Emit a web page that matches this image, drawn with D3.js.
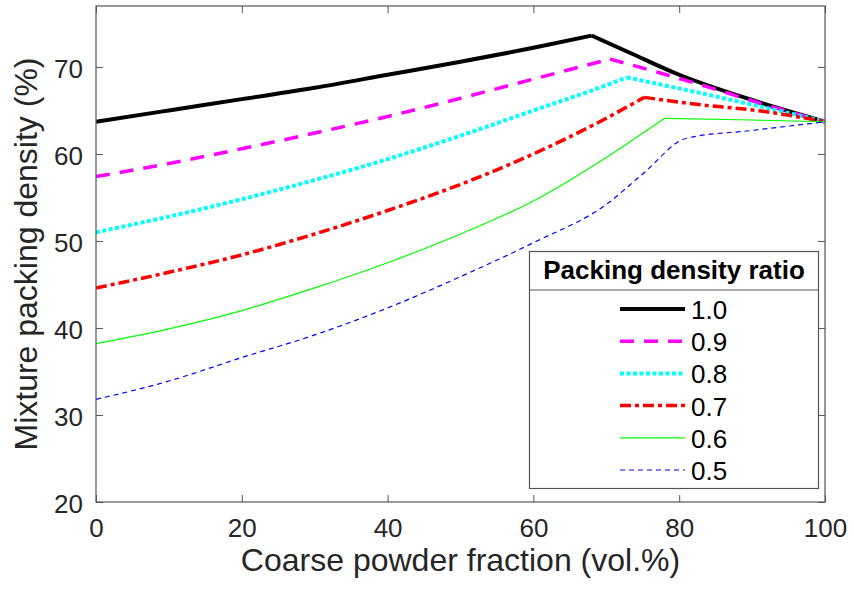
<!DOCTYPE html>
<html>
<head>
<meta charset="utf-8">
<script src="https://cdn.jsdelivr.net/npm/d3@7"></script>
<style>
  body { margin: 0; background: #fff; }
  text { font-family: "Liberation Sans", Arial, sans-serif; }
</style>
</head>
<body>
<svg id="grafico" width="854" height="590"></svg>
<script>
// Datos (fraccion gruesa en vol.%, densidad en %)
var ratios = ["1.0", "0.9", "0.8", "0.7", "0.6", "0.5"];
var colores = ["#000000", "#ff00ff", "#00ffff", "#ff0000", "#00ff00", "#0000ff"];

var x10 = [0, 10, 20, 30, 40, 50, 60, 68, 73.3, 80, 90, 100];
var y10 = [63.7, 65.0, 66.3, 67.6, 69.1, 70.6, 72.2, 73.6, 71.6, 69.1, 66.2, 63.7];

var x09 = [0, 10, 20, 30, 40, 50, 60, 70.5, 77.4, 84.7, 92, 100];
var y09 = [57.4, 58.9, 60.6, 62.4, 64.3, 66.4, 68.6, 70.9, 69.3, 67.5, 65.6, 63.7];

var x08 = [0, 10, 20, 30, 40, 50, 60, 70, 72.8, 80.1, 89.3, 100];
var y08 = [51.0, 52.8, 54.8, 57.0, 59.4, 62.1, 65.0, 67.9, 68.8, 67.5, 65.8, 63.7];

var x07 = [0, 10, 20, 30, 40, 50, 60, 70, 75.2, 82.4, 91.5, 100];
var y07 = [44.6, 46.4, 48.4, 50.8, 53.5, 56.5, 60.0, 64.1, 66.5, 65.7, 64.9, 63.7];

var x06 = [0, 10, 20, 30, 40, 50, 60, 70, 78, 90, 100];
var y06 = [38.2, 39.9, 42.0, 44.6, 47.5, 50.8, 54.6, 59.6, 64.1, 63.9, 63.7];

var x05 = [0, 10, 20, 30, 40, 50, 60, 70, 75, 81, 90, 100];
var y05 = [31.8, 33.9, 36.6, 39.2, 42.3, 45.9, 49.8, 54.2, 57.7, 61.8, 62.7, 63.7];

var xTicks = [0, 20, 40, 60, 80, 100];
var yTicks = [20, 30, 40, 50, 60, 70];

var seriesX = [x10, x09, x08, x07, x06, x05];
var seriesY = [y10, y09, y08, y07, y06, y05];

// estilo de cada curva (grosor y trazo)
var grosores = [4, 3.5, 4, 3.5, 1.2, 1.2];
var trazos = [null, "14,10", "4,2.5", "11,4,4,4", null, "5,4"];

var svg = d3.select("#grafico");
var izq = 96, der = 825, arriba = 6, abajo = 502;

var x = d3.scaleLinear().domain([0, 100]).range([izq, der]);
var y = d3.scaleLinear().domain([20, 77]).range([abajo, arriba]);

var gris = "#555";
var textoColor = "#262626";

// curvas: tramo ascendente y descendente por separado para conservar el pico
var linea = d3.line().x(d => x(d[0])).y(d => y(d[1])).curve(d3.curveMonotoneX);

seriesX.forEach(function (xs, i) {
  var pts = xs.map((v, j) => [v, seriesY[i][j]]);
  var pico = d3.maxIndex(pts, d => d[1]);
  var d = linea(pts.slice(0, pico + 1)) + linea(pts.slice(pico));
  svg.append("path")
    .attr("d", d)
    .attr("fill", "none")
    .attr("stroke", colores[i])
    .attr("stroke-width", grosores[i])
    .attr("stroke-dasharray", trazos[i])
    .attr("stroke-linejoin", "round");
});

// ejes con marcas hacia dentro
var ejeX = svg.append("g").attr("transform", "translate(0," + abajo + ")")
  .call(d3.axisBottom(x).tickValues(xTicks).tickSizeInner(-7).tickSizeOuter(0).tickPadding(17));
var ejeY = svg.append("g").attr("transform", "translate(" + izq + ",0)")
  .call(d3.axisLeft(y).tickValues(yTicks).tickSizeInner(-7).tickSizeOuter(0).tickPadding(13));
var ejeXsup = svg.append("g").attr("transform", "translate(0," + arriba + ")")
  .call(d3.axisTop(x).tickValues(xTicks).tickSizeInner(-7).tickSizeOuter(0).tickFormat(""));
var ejeYder = svg.append("g").attr("transform", "translate(" + der + ",0)")
  .call(d3.axisRight(y).tickValues(yTicks).tickSizeInner(-7).tickSizeOuter(0).tickFormat(""));

[ejeX, ejeY, ejeXsup, ejeYder].forEach(function (g) {
  g.select(".domain").remove();
  g.selectAll("line").attr("stroke", gris);
  g.selectAll("text").attr("fill", textoColor).style("font-size", "26px")
    .style("font-family", "Liberation Sans, Arial, sans-serif");
});
ejeY.selectAll("text").attr("dy", "0.42em");

svg.append("rect")
  .attr("x", izq).attr("y", arriba)
  .attr("width", der - izq).attr("height", abajo - arriba)
  .attr("fill", "none").attr("stroke", gris).attr("stroke-width", 1.2);

// titulos de ejes
svg.append("text")
  .attr("x", (izq + der) / 2).attr("y", 571)
  .attr("text-anchor", "middle")
  .style("font-size", "32px").attr("fill", textoColor)
  .text("Coarse powder fraction (vol.%)");

svg.append("text")
  .attr("transform", "translate(37," + (arriba + abajo) / 2 + ") rotate(-90)")
  .attr("text-anchor", "middle")
  .style("font-size", "32px").attr("fill", textoColor)
  .text("Mixture packing density (%)");

// leyenda
var ley = svg.append("g");
ley.append("rect")
  .attr("x", 529.5).attr("y", 251.5).attr("width", 289).attr("height", 237)
  .attr("fill", "#fff").attr("stroke", gris).attr("stroke-width", 1.2);
ley.append("line")
  .attr("x1", 529.5).attr("x2", 818.5).attr("y1", 290).attr("y2", 290)
  .attr("stroke", gris).attr("stroke-width", 1.2);
ley.append("text")
  .attr("x", 674).attr("y", 279)
  .attr("text-anchor", "middle")
  .style("font-size", "26px").style("font-weight", "bold").attr("fill", "#000")
  .text("Packing density ratio");

ratios.forEach(function (r, i) {
  var cy = 309 + i * 32.2;
  ley.append("line")
    .attr("x1", 620).attr("x2", 685).attr("y1", cy).attr("y2", cy)
    .attr("stroke", colores[i])
    .attr("stroke-width", grosores[i])
    .attr("stroke-dasharray", trazos[i]);
  ley.append("text")
    .attr("x", 691).attr("y", cy + 10)
    .style("font-size", "26px").attr("fill", "#000")
    .text(r);
});
</script>
</body>
</html>
